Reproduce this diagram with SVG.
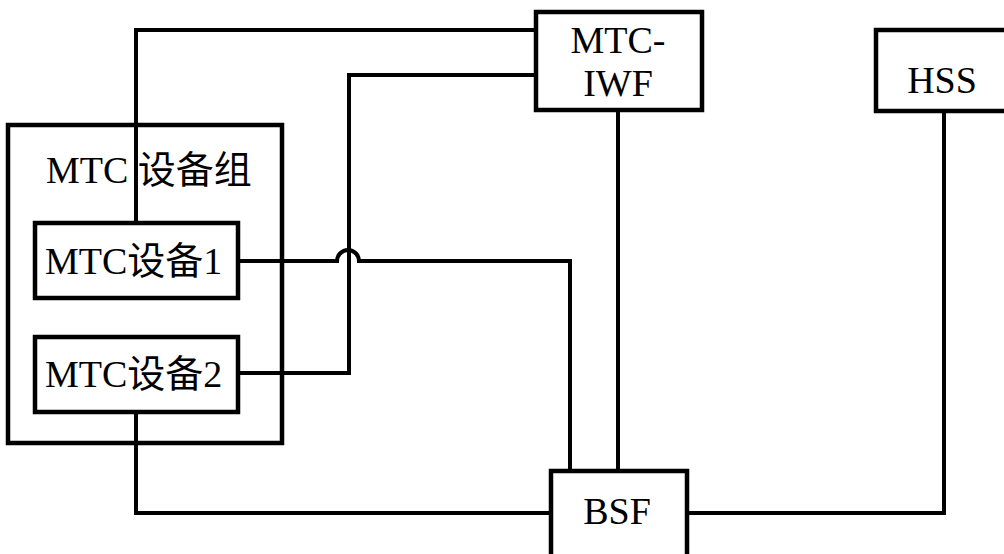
<svg xmlns="http://www.w3.org/2000/svg" width="1004" height="554" viewBox="0 0 1004 554">
<style>
.box{fill:#fff;stroke:#000;stroke-width:4.5}
.grp{fill:none;stroke:#000;stroke-width:4.5}
.ln{fill:none;stroke:#000;stroke-width:4}
.t{font-family:'Liberation Serif','Noto Sans CJK SC',serif;font-size:38px;fill:#000}
.m{text-anchor:middle}
</style>
<rect width="1004" height="554" fill="#fff"/>
<g id="group">
<rect class="grp" x="8" y="125" width="274" height="318"/>
<text class="t" x="46" y="183">MTC 设备组</text>
</g>
<g id="connectors">
<path class="ln" d="M536 30 H136 V223"/>
<path class="ln" d="M536 75 H349 V373 H238"/>
<path class="ln" d="M238 261 H337 A11 11 0 0 1 359 261 H570 V471"/>
<path class="ln" d="M618 110 V471"/>
<path class="ln" d="M136 412 V513 H551"/>
<path class="ln" d="M687 513 H944 V111"/>
</g>
<g id="mtc-iwf">
<rect class="box" x="536" y="12" width="166" height="98"/>
<text class="t m" x="618" y="53">MTC-</text>
<text class="t m" x="618" y="96">IWF</text>
</g>
<g id="hss">
<rect class="box" x="876" y="30" width="140" height="81"/>
<text class="t m" x="942" y="93">HSS</text>
</g>
<g id="device1">
<rect class="box" x="35" y="223" width="203" height="75"/>
<text class="t" x="45" y="274">MTC设备1</text>
</g>
<g id="device2">
<rect class="box" x="35" y="337" width="203" height="75"/>
<text class="t" x="45" y="387">MTC设备2</text>
</g>
<g id="bsf">
<rect class="box" x="551" y="471" width="136" height="90"/>
<text class="t m" x="617" y="524">BSF</text>
</g>
</svg>
